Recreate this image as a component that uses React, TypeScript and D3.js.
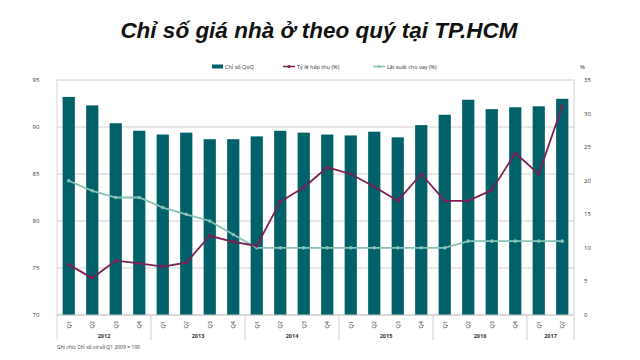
import React, { useEffect, useRef } from "react";
import * as d3 from "d3";

// quarters 2012Q1 .. 2017Q2
const quarters = [
  "Q1", "Q2", "Q3", "Q4",
  "Q1", "Q2", "Q3", "Q4",
  "Q1", "Q2", "Q3", "Q4",
  "Q1", "Q2", "Q3", "Q4",
  "Q1", "Q2", "Q3", "Q4",
  "Q1", "Q2",
];
const years = ["2012", "2013", "2014", "2015", "2016", "2017"];
const yearSizes = [4, 4, 4, 4, 4, 2];

const priceIndex = [
  93.2, 92.3, 90.4, 89.6, 89.2, 89.4, 88.7, 88.7, 89.0, 89.6, 89.4,
  89.2, 89.1, 89.5, 88.9, 90.2, 91.3, 92.9, 91.9, 92.1, 92.2, 93.0,
];
const absorption = [
  7.5, 5.5, 8.1, 7.7, 7.2, 7.8, 11.8, 10.9, 10.3, 16.9, 19.0,
  22.0, 21.0, 19.1, 17.0, 21.0, 17.0, 17.0, 18.6, 24.1, 21.0, 31.1,
];
const lendingRate = [
  20, 18.5, 17.5, 17.5, 16, 15, 14, 12, 10, 10, 10,
  10, 10, 10, 10, 10, 10, 11, 11, 11, 11, 11,
];

const leftTicks = [70, 75, 80, 85, 90, 95];
const rightTicks = [0, 5, 10, 15, 20, 25, 30, 35];

const BAR = "#006169";
const PURPLE = "#7b1f55";
const LIGHT = "#86c2b5";

export default function App() {
  const ref = useRef<SVGSVGElement>(null);

  useEffect(() => {
    const svg = d3.select(ref.current);
    svg.selectAll("*").remove();

    const left = 57, right = 574, top = 80, bottom = 315;
    const idx = quarters.map((_, i) => String(i));
    const x = d3.scaleBand().domain(idx).range([left, right]).paddingInner(0.48).paddingOuter(0.24);
    const yL = d3.scaleLinear().domain([70, 95]).range([bottom, top]);
    const yR = d3.scaleLinear().domain([0, 35]).range([bottom, top]);
    const font = "'Open Sans', sans-serif";

    svg.append("text")
      .attr("x", 319).attr("y", 38)
      .attr("text-anchor", "middle")
      .style("font", "italic bold 22.5px 'Liberation Sans', Arial, sans-serif")
      .attr("fill", "#111")
      .text("Chỉ số giá nhà ở theo quý tại TP.HCM");

    // grid
    svg.append("g").selectAll("line").data(leftTicks).join("line")
      .attr("x1", left).attr("x2", right)
      .attr("y1", d => yL(d)).attr("y2", d => yL(d))
      .attr("stroke", "#d0d0d0").attr("stroke-width", 1);

    // left axis labels
    svg.append("g").selectAll("text").data(leftTicks).join("text")
      .attr("x", 36).attr("y", d => yL(d) + 2)
      .attr("text-anchor", "middle")
      .style("font", `6px ${font}`).attr("fill", "#333")
      .text(d => d);

    // right axis
    svg.append("line").attr("x1", right).attr("x2", right).attr("y1", top).attr("y2", bottom)
      .attr("stroke", "#d0d0d0");
    svg.append("g").selectAll("text").data(rightTicks).join("text")
      .attr("x", 584).attr("y", d => yR(d) + 2)
      .style("font", `6px ${font}`).attr("fill", "#333")
      .text(d => d);
    svg.append("text").attr("x", 580).attr("y", 69)
      .style("font", `6px ${font}`).attr("fill", "#333").text("%");

    // bars
    svg.append("g").selectAll("rect").data(priceIndex).join("rect")
      .attr("x", (_, i) => x(String(i))!)
      .attr("width", x.bandwidth())
      .attr("y", d => yL(d))
      .attr("height", d => bottom - yL(d))
      .attr("fill", BAR);

    // x axis
    svg.append("line").attr("x1", left).attr("x2", right).attr("y1", bottom).attr("y2", bottom)
      .attr("stroke", "#c8c8c8");
    svg.append("line").attr("x1", left).attr("x2", left).attr("y1", top).attr("y2", 340)
      .attr("stroke", "#d8d8d8");

    const cx = (i: number) => x(String(i))! + x.bandwidth() / 2;

    svg.append("g").selectAll("text").data(quarters).join("text")
      .attr("transform", (_, i) => `translate(${cx(i) + 2},${bottom + 6}) rotate(-90)`)
      .attr("text-anchor", "end")
      .style("font", `5.5px ${font}`).attr("fill", "#333")
      .text(d => d);

    let start = 0;
    const groups = years.map((y, k) => {
      const g = { y, s: start, e: start + yearSizes[k] };
      start += yearSizes[k];
      return g;
    });
    const step = x.step();
    const bx = (i: number) => x(String(0))! - (step - x.bandwidth()) / 2 + i * step;
    svg.append("g").selectAll("line").data(groups).join("line")
      .attr("x1", d => bx(d.e)).attr("x2", d => bx(d.e))
      .attr("y1", bottom).attr("y2", 340)
      .attr("stroke", "#cfcfcf");
    svg.append("g").selectAll("text").data(groups).join("text")
      .attr("x", d => (bx(d.s) + bx(d.e)) / 2).attr("y", 338)
      .attr("text-anchor", "middle")
      .style("font", `bold 5.5px ${font}`).attr("fill", "#333")
      .text(d => d.y);

    // lines
    const lineR = d3.line<number>().x((_, i) => cx(i)).y(d => yR(d));
    const series = [
      { data: lendingRate, color: LIGHT },
      { data: absorption, color: PURPLE },
    ];
    series.forEach(s => {
      svg.append("path").datum(s.data).attr("d", lineR)
        .attr("fill", "none").attr("stroke", s.color).attr("stroke-width", 1.8);
      svg.append("g").selectAll("circle").data(s.data).join("circle")
        .attr("cx", (_, i) => cx(i)).attr("cy", d => yR(d)).attr("r", 1.8)
        .attr("fill", s.color);
    });

    // legend
    const lg = svg.append("g").style("font", `5.5px ${font}`).attr("fill", "#333");
    lg.append("rect").attr("x", 212).attr("y", 64.5).attr("width", 11).attr("height", 4).attr("fill", BAR);
    lg.append("text").attr("x", 225).attr("y", 69).text("Chỉ số QoQ");
    [
      { x0: 283, c: PURPLE, t: "Tỷ lệ hấp thụ (%)" },
      { x0: 373, c: LIGHT, t: "Lãi suất cho vay (%)" },
    ].forEach(l => {
      lg.append("line").attr("x1", l.x0).attr("x2", l.x0 + 12).attr("y1", 66.5).attr("y2", 66.5)
        .attr("stroke", l.c).attr("stroke-width", 1.5);
      lg.append("circle").attr("cx", l.x0 + 6).attr("cy", 66.5).attr("r", 1.5).attr("fill", l.c);
      lg.append("text").attr("x", l.x0 + 14).attr("y", 69).text(l.t);
    });

    svg.append("text").attr("x", 57).attr("y", 349)
      .style("font", `5px ${font}`).attr("fill", "#333")
      .text("Ghi chú: Chỉ số cơ sở Q1 2009 = 100");
  }, []);

  return (
    <svg ref={ref} width={640} height={360}
      style={{ position: "absolute", left: 0, top: 0, background: "#fff" }} />
  );
}
